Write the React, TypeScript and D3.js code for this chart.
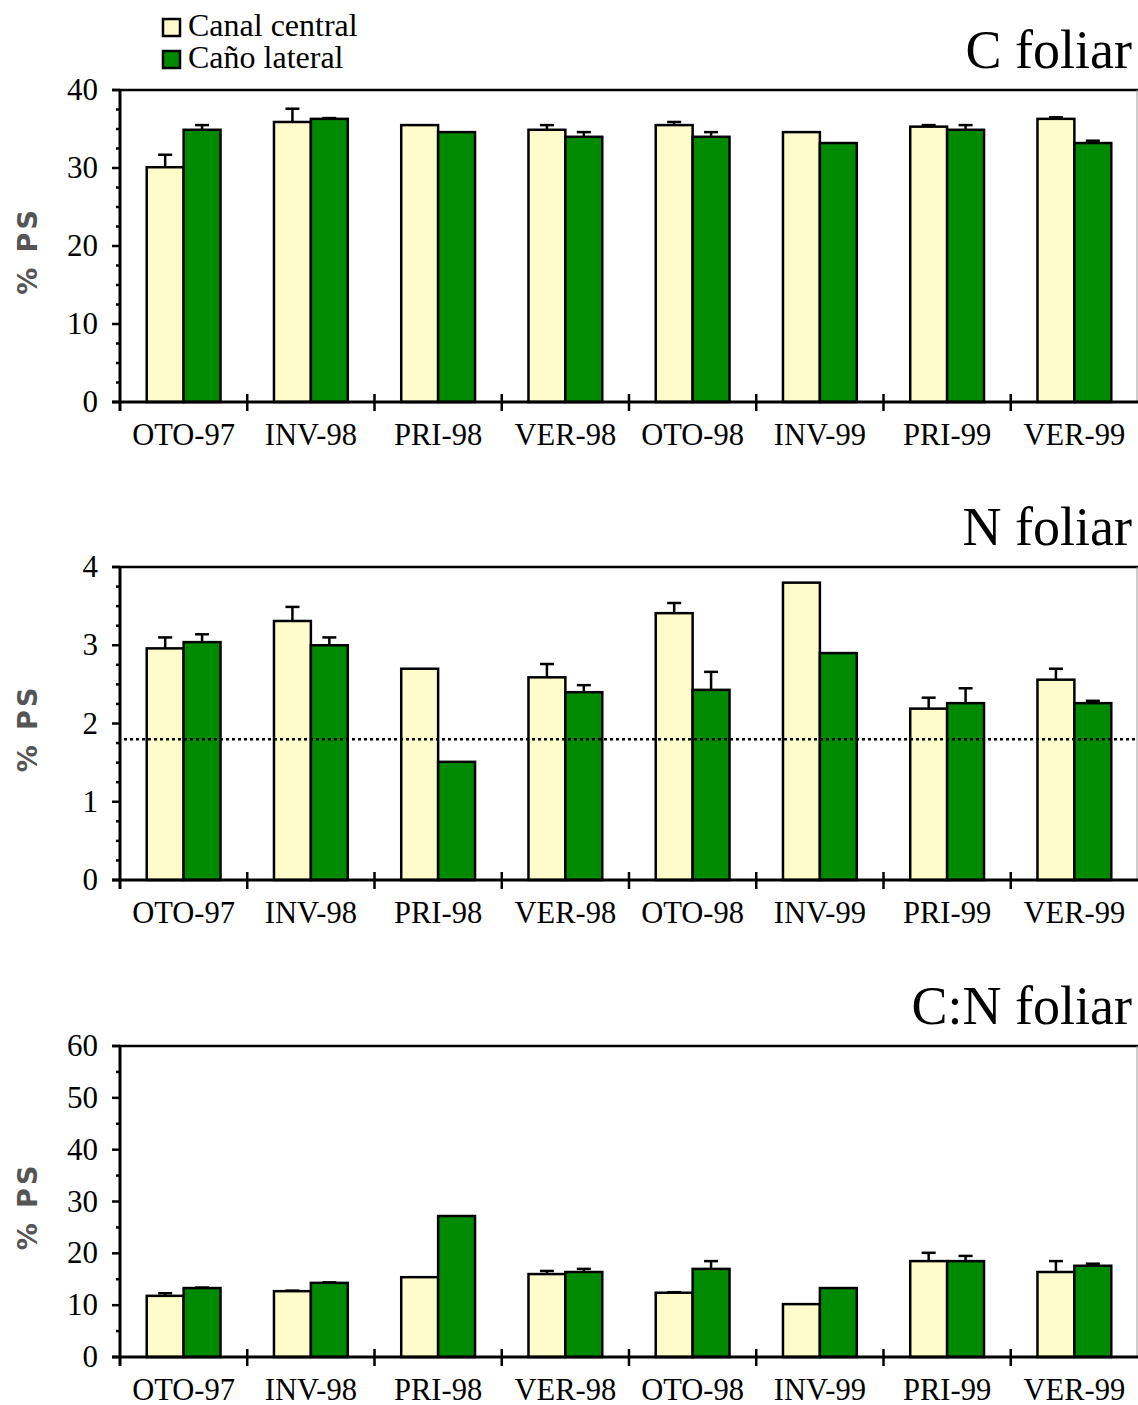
import * as d3 from "d3";

const seasons = ["OTO-97", "INV-98", "PRI-98", "VER-98", "OTO-98", "INV-99", "PRI-99", "VER-99"];
const seriesNames = ["Canal central", "Caño lateral"];
const colors = ["#FFFCCB", "#008A00"];

// C foliar
const cCentral = [30.1, 35.9, 35.5, 34.9, 35.5, 34.6, 35.3, 36.3];
const cCentralErr = [1.6, 1.7, 0, 0.6, 0.4, 0, 0.2, 0.2];
const cLateral = [34.9, 36.3, 34.6, 34.0, 34.0, 33.2, 34.9, 33.2];
const cLateralErr = [0.6, 0.1, 0, 0.6, 0.6, 0, 0.6, 0.3];

// N foliar
const nCentral = [2.96, 3.31, 2.7, 2.59, 3.41, 3.8, 2.19, 2.56];
const nCentralErr = [0.14, 0.18, 0, 0.17, 0.13, 0, 0.14, 0.14];
const nLateral = [3.04, 3.0, 1.51, 2.4, 2.43, 2.9, 2.26, 2.26];
const nLateralErr = [0.1, 0.1, 0, 0.09, 0.23, 0, 0.19, 0.03];
const nReference = 1.8;

// C:N foliar
const cnCentral = [11.8, 12.7, 15.4, 16.0, 12.4, 10.2, 18.5, 16.4];
const cnCentralErr = [0.5, 0.1, 0, 0.6, 0.1, 0, 1.6, 2.1];
const cnLateral = [13.3, 14.3, 27.2, 16.4, 17.0, 13.3, 18.5, 17.6];
const cnLateralErr = [0.1, 0.1, 0, 0.6, 1.5, 0, 1.0, 0.4];

const yTicksC = [0, 10, 20, 30, 40];
const yTicksN = [0, 1, 2, 3, 4];
const yTicksCN = [0, 10, 20, 30, 40, 50, 60];

const serif = "'Liberation Serif', 'Times New Roman', serif";
const left = 120;
const right = 1138;

type PanelProps = {
  title: string;
  top: number;
  bottom: number;
  max: number;
  ticks: number[];
  minorStep: number;
  central: number[];
  centralErr: number[];
  lateral: number[];
  lateralErr: number[];
  refLine?: number;
};

function Panel(p: PanelProps) {
  const x = d3.scaleBand<string>().domain(seasons).range([left, right]);
  const bw = x.bandwidth();
  const x1 = d3.scaleBand<number>().domain([0, 1]).range([bw * 0.21, bw * 0.79]);
  const y = d3.scaleLinear().domain([0, p.max]).range([p.bottom, p.top]);
  const minor = d3.range(0, p.max, p.minorStep).filter((v) => !p.ticks.includes(v));
  const rows = [
    { vals: p.central, errs: p.centralErr },
    { vals: p.lateral, errs: p.lateralErr },
  ];

  return (
    <g>
      <text x={1132} y={p.top - 22} textAnchor="end" fontFamily={serif} fontSize={54}>
        {p.title}
      </text>
      <text
        transform={`translate(37,${(p.top + p.bottom) / 2 + 5}) rotate(-90)`}
        textAnchor="middle"
        fontFamily="'DejaVu Sans', sans-serif"
        fontSize={27}
        fontWeight="bold"
        letterSpacing={3}
        fill="#555"
      >
        % PS
      </text>

      {/* bars */}
      {rows.map((r, si) =>
        r.vals.map((v, i) => {
          const bx = (x(seasons[i]) ?? 0) + (x1(si) ?? 0);
          const w = x1.bandwidth();
          const cx = bx + w / 2;
          return (
            <g key={`${si}-${i}`}>
              {r.errs[i] > 0 && (
                <g stroke="#000" strokeWidth={2.5}>
                  <line x1={cx} x2={cx} y1={y(v)} y2={y(v + r.errs[i])} />
                  <line x1={cx - 7} x2={cx + 7} y1={y(v + r.errs[i])} y2={y(v + r.errs[i])} />
                </g>
              )}
              <rect
                x={bx}
                y={y(v)}
                width={w}
                height={y(0) - y(v)}
                fill={colors[si]}
                stroke="#000"
                strokeWidth={2.5}
              />
            </g>
          );
        })
      )}

      {p.refLine !== undefined && (
        <line
          x1={left + 4}
          x2={right}
          y1={y(p.refLine)}
          y2={y(p.refLine)}
          stroke="#000"
          strokeWidth={2.5}
          strokeDasharray="3,3"
        />
      )}

      {/* frame */}
      <line x1={112} x2={right} y1={p.top} y2={p.top} stroke="#000" strokeWidth={2.5} />
      <line x1={right - 1} x2={right - 1} y1={p.top} y2={p.bottom} stroke="#999" strokeWidth={1} />
      <line x1={112} x2={right} y1={p.bottom} y2={p.bottom} stroke="#000" strokeWidth={3} />
      <line x1={left} x2={left} y1={p.top} y2={p.bottom + 9} stroke="#000" strokeWidth={3} />

      {/* y ticks */}
      {p.ticks.map((t) => (
        <g key={t}>
          <line x1={112} x2={left} y1={y(t)} y2={y(t)} stroke="#000" strokeWidth={2.5} />
          <text x={98} y={y(t) + 10} textAnchor="end" fontFamily={serif} fontSize={31}>
            {t}
          </text>
        </g>
      ))}
      {minor.map((t) => (
        <line key={`m${t}`} x1={116} x2={left} y1={y(t)} y2={y(t)} stroke="#000" strokeWidth={2.5} />
      ))}

      {/* category ticks & labels */}
      {seasons.slice(1).map((s) => (
        <line
          key={`t${s}`}
          x1={x(s)}
          x2={x(s)}
          y1={p.bottom - 8}
          y2={p.bottom + 9}
          stroke="#000"
          strokeWidth={2.5}
        />
      ))}
      {seasons.map((s) => (
        <text
          key={`l${s}`}
          x={(x(s) ?? 0) + bw / 2}
          y={p.bottom + 43}
          textAnchor="middle"
          fontFamily={serif}
          fontSize={30.5}
        >
          {s}
        </text>
      ))}
    </g>
  );
}

export default function App() {
  return (
    <svg
      width={1138}
      height={1405}
      style={{ position: "absolute", left: 0, top: 0, background: "#fff" }}
    >
      {/* legend */}
      {seriesNames.map((n, i) => (
        <g key={n}>
          <rect x={163} y={19 + i * 32} width={17} height={17} fill={colors[i]} stroke="#000" strokeWidth={2.5} />
          <text x={188} y={36 + i * 32} fontFamily={serif} fontSize={32}>
            {n}
          </text>
        </g>
      ))}

      <Panel
        title="C foliar"
        top={90}
        bottom={402}
        max={40}
        ticks={yTicksC}
        minorStep={2.5}
        central={cCentral}
        centralErr={cCentralErr}
        lateral={cLateral}
        lateralErr={cLateralErr}
      />
      <Panel
        title="N foliar"
        top={567}
        bottom={880}
        max={4}
        ticks={yTicksN}
        minorStep={0.25}
        central={nCentral}
        centralErr={nCentralErr}
        lateral={nLateral}
        lateralErr={nLateralErr}
        refLine={nReference}
      />
      <Panel
        title="C:N foliar"
        top={1046}
        bottom={1357}
        max={60}
        ticks={yTicksCN}
        minorStep={5}
        central={cnCentral}
        centralErr={cnCentralErr}
        lateral={cnLateral}
        lateralErr={cnLateralErr}
      />
    </svg>
  );
}
